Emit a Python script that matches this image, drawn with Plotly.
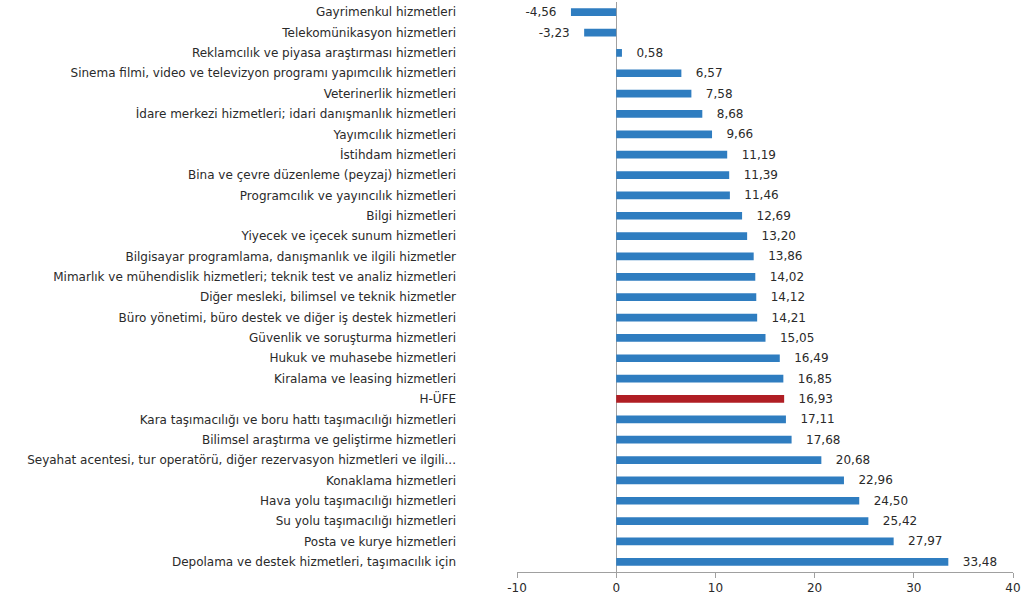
import plotly.graph_objects as go

categories = [
    "Gayrimenkul hizmetleri",
    "Telekomünikasyon hizmetleri",
    "Reklamcılık ve piyasa araştırması hizmetleri",
    "Sinema filmi, video ve televizyon programı yapımcılık hizmetleri",
    "Veterinerlik hizmetleri",
    "İdare merkezi hizmetleri; idari danışmanlık hizmetleri",
    "Yayımcılık hizmetleri",
    "İstihdam hizmetleri",
    "Bina ve çevre düzenleme (peyzaj) hizmetleri",
    "Programcılık ve yayıncılık hizmetleri",
    "Bilgi hizmetleri",
    "Yiyecek ve içecek sunum hizmetleri",
    "Bilgisayar programlama, danışmanlık ve ilgili hizmetler",
    "Mimarlık ve mühendislik hizmetleri; teknik test ve analiz hizmetleri",
    "Diğer mesleki, bilimsel ve teknik hizmetler",
    "Büro yönetimi, büro destek ve diğer iş destek hizmetleri",
    "Güvenlik ve soruşturma hizmetleri",
    "Hukuk ve muhasebe hizmetleri",
    "Kiralama ve leasing hizmetleri",
    "H-ÜFE",
    "Kara taşımacılığı ve boru hattı taşımacılığı hizmetleri",
    "Bilimsel araştırma ve geliştirme hizmetleri",
    "Seyahat acentesi, tur operatörü, diğer rezervasyon hizmetleri ve ilgili...",
    "Konaklama hizmetleri",
    "Hava yolu taşımacılığı hizmetleri",
    "Su yolu taşımacılığı hizmetleri",
    "Posta ve kurye hizmetleri",
    "Depolama ve destek hizmetleri, taşımacılık için",
]
values = [-4.56, -3.23, 0.58, 6.57, 7.58, 8.68, 9.66, 11.19, 11.39, 11.46,
          12.69, 13.20, 13.86, 14.02, 14.12, 14.21, 15.05, 16.49, 16.85, 16.93,
          17.11, 17.68, 20.68, 22.96, 24.50, 25.42, 27.97, 33.48]
x_ticks = [-10, 0, 10, 20, 30, 40]
x_tick_text = ["-10", "0", "10", "20", "30", "40"]

BLUE = "#2F7DC0"
RED = "#B01E24"
FONT = "DejaVu Sans, Verdana, Arial"
colors = [RED if c == "H-ÜFE" else BLUE for c in categories]
labels = [("   " + f"{v:.2f}" if v >= 0 else f"{v:.2f}" + "   ").replace(".", ",")
          for v in values]

fig = go.Figure(go.Bar(
    x=values, y=categories, orientation="h",
    marker=dict(color=colors, line=dict(width=0)),
    width=0.38,
    text=labels, textposition="outside", cliponaxis=False,
    constraintext="none",
    textfont=dict(family=FONT, size=12, color="#2A2A2A"),
))

fig.update_layout(
    width=1022, height=602,
    margin=dict(l=517, r=9, t=2, b=30, autoexpand=False),
    paper_bgcolor="white", plot_bgcolor="white",
    showlegend=False,
    font=dict(family=FONT, size=12, color="#2A2A2A"),
)
fig.update_xaxes(
    range=[-10, 40], tickvals=x_ticks, ticktext=x_tick_text,
    ticks="outside", ticklen=5, automargin=False,
    tickcolor="#A0A0A0", showline=True, linecolor="#A0A0A0", linewidth=1,
    showgrid=False, zeroline=True, zerolinecolor="#A0A0A0", zerolinewidth=1,
    tickfont=dict(family=FONT, size=12, color="#2A2A2A"),
)
fig.update_yaxes(
    autorange="reversed", showgrid=False, showline=False, ticks="",
    automargin=False, ticklabelstandoff=60,
    tickfont=dict(family=FONT, size=12, color="#2A2A2A"),
)

fig.write_html(
    "out.html",
    config={"displayModeBar": False},
    post_script="document.body.style.margin='0px';document.body.style.overflow='hidden';",
)
